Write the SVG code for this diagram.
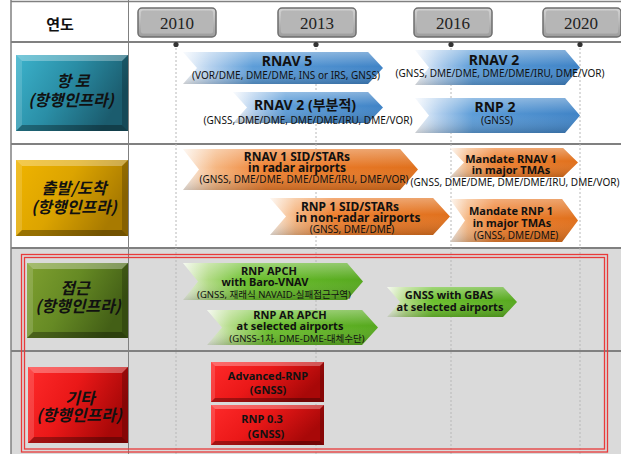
<svg xmlns="http://www.w3.org/2000/svg" width="621" height="454" viewBox="0 0 621 454">
<defs>
<linearGradient id="gBlue" x1="0" y1="0" x2="1" y2="0">
<stop offset="0" stop-color="#f6f9fd"/><stop offset="0.14" stop-color="#b3d0ee"/><stop offset="0.35" stop-color="#5d9dd8"/><stop offset="1" stop-color="#3f83c6"/>
</linearGradient>
<linearGradient id="gOrange" x1="0" y1="0" x2="1" y2="0">
<stop offset="0" stop-color="#fdf3ea"/><stop offset="0.14" stop-color="#f5b681"/><stop offset="0.35" stop-color="#ee8030"/><stop offset="1" stop-color="#e0701c"/>
</linearGradient>
<linearGradient id="gGreen" x1="0" y1="0" x2="1" y2="0">
<stop offset="0" stop-color="#f0f6e8"/><stop offset="0.14" stop-color="#b2db85"/><stop offset="0.35" stop-color="#6cc02e"/><stop offset="1" stop-color="#56a81e"/>
</linearGradient>
<linearGradient id="gShade" x1="0" y1="0" x2="0" y2="1">
<stop offset="0" stop-color="#ffffff" stop-opacity="0.35"/><stop offset="0.45" stop-color="#ffffff" stop-opacity="0"/><stop offset="1" stop-color="#000000" stop-opacity="0.18"/>
</linearGradient>
<linearGradient id="gTeal" x1="0" y1="0" x2="1" y2="0.4">
<stop offset="0" stop-color="#3cb3cc"/><stop offset="0.5" stop-color="#2a8ea6"/><stop offset="1" stop-color="#1b5c6e"/>
</linearGradient>
<linearGradient id="gGold" x1="0" y1="0" x2="1" y2="0.4">
<stop offset="0" stop-color="#f0b400"/><stop offset="0.5" stop-color="#dca400"/><stop offset="1" stop-color="#a87a00"/>
</linearGradient>
<linearGradient id="gOlive" x1="0" y1="0" x2="1" y2="0.4">
<stop offset="0" stop-color="#7fa030"/><stop offset="0.5" stop-color="#668a24"/><stop offset="1" stop-color="#435f16"/>
</linearGradient>
<linearGradient id="gRed" x1="0" y1="0" x2="1" y2="0.4">
<stop offset="0" stop-color="#ff2a2a"/><stop offset="0.5" stop-color="#ea1818"/><stop offset="1" stop-color="#a80808"/>
</linearGradient>
<linearGradient id="gGray" x1="0" y1="0" x2="0" y2="1">
<stop offset="0" stop-color="#d4d4d4"/><stop offset="1" stop-color="#9c9c9c"/>
</linearGradient>
<style>
.grid{stroke:#808080;fill:none}
.tl{stroke:#b8b8b8;stroke-width:1;stroke-dasharray:2 2;fill:none}
.dot{fill:#333}
.shade{fill:url(#gShade)}
.hl{fill:#ffffff;fill-opacity:0.3}
.hl2{fill:#ffffff;fill-opacity:0.15}
.dk{fill:#000000;fill-opacity:0.32}
.dk2{fill:#000000;fill-opacity:0.2}
.cat{font-family:"Noto Sans CJK KR","Noto Sans",sans-serif;font-weight:bold;font-size:16px;fill:#111;text-anchor:middle}
.yr{font-family:"Liberation Serif",serif;font-size:17px;fill:#222;text-anchor:middle}
.t{font-family:"Noto Sans","Noto Sans CJK KR",sans-serif;fill:#111;text-anchor:middle}
.b14{font-size:14px;font-weight:bold}
.b12{font-size:12px;font-weight:bold}
.b11{font-size:11px;font-weight:bold}
.s10{font-size:10px}
.s9{font-size:9.5px}
.frame{fill:none;stroke:#e83a3a;stroke-width:1.3}
</style>
</defs>

<g id="background">
<rect x="0" y="0" width="621" height="454" fill="#ffffff"/>
<rect x="11" y="248" width="610" height="206" fill="#dadada"/>
</g>

<g id="grid">
<line class="grid" x1="11" y1="1.5" x2="621" y2="1.5" stroke-width="1.5"/>
<line class="grid" x1="11" y1="42" x2="621" y2="42" stroke-width="2"/>
<line class="grid" x1="11" y1="144" x2="621" y2="144" stroke-width="2"/>
<line class="grid" x1="11" y1="248" x2="621" y2="248" stroke-width="2"/>
<line class="grid" x1="11" y1="351" x2="621" y2="351" stroke-width="2"/>
<line class="grid" x1="11" y1="0" x2="11" y2="454" stroke-width="1.5"/>
<line class="grid" x1="128.5" y1="0" x2="128.5" y2="454" stroke-width="1" stroke="#9a9a9a"/>
</g>

<g id="connectors">
<line class="tl" x1="176" y1="44" x2="176" y2="454"/>
<line class="tl" x1="316" y1="44" x2="316" y2="454"/>
<line class="tl" x1="451" y1="44" x2="451" y2="454"/>
<line class="tl" x1="580" y1="44" x2="580" y2="454"/>
<circle class="dot" cx="176" cy="44.5" r="2.6"/>
<circle class="dot" cx="316" cy="44.5" r="2.6"/>
<circle class="dot" cx="451" cy="44.5" r="2.6"/>
<circle class="dot" cx="580" cy="44.5" r="2.6"/>
</g>

<g id="frame">
<rect class="frame" x="21.5" y="254.5" width="586" height="197.5"/>
<rect class="frame" x="24.5" y="257.5" width="580" height="191.5"/>
</g>

<g id="header">
<text x="60" y="30" font-family="Noto Sans CJK KR, sans-serif" font-weight="bold" font-size="15" text-anchor="middle" fill="#111">연도</text>
</g>

<g id="year-2010">
<rect x="138" y="8" width="78" height="29" rx="4" fill="url(#gGray)" stroke="#6e6e6e" stroke-width="1.5"/>
<rect x="141" y="10.5" width="72" height="23" rx="2" fill="#b6b6b6"/>
<text class="yr" x="177" y="29">2010</text>
</g>
<g id="year-2013">
<rect x="278" y="8" width="78" height="29" rx="4" fill="url(#gGray)" stroke="#6e6e6e" stroke-width="1.5"/>
<rect x="281" y="10.5" width="72" height="23" rx="2" fill="#b6b6b6"/>
<text class="yr" x="317" y="29">2013</text>
</g>
<g id="year-2016">
<rect x="414" y="8" width="78" height="29" rx="4" fill="url(#gGray)" stroke="#6e6e6e" stroke-width="1.5"/>
<rect x="417" y="10.5" width="72" height="23" rx="2" fill="#b6b6b6"/>
<text class="yr" x="453" y="29">2016</text>
</g>
<g id="year-2020">
<rect x="543" y="8" width="78" height="29" rx="4" fill="url(#gGray)" stroke="#6e6e6e" stroke-width="1.5"/>
<rect x="546" y="10.5" width="72" height="23" rx="2" fill="#b6b6b6"/>
<text class="yr" x="581" y="29">2020</text>
</g>

<g id="cat-enroute">
<rect x="16" y="55" width="112" height="76" fill="url(#gTeal)"/>
<polygon class="hl" points="16,55 128,55 122,61 22,61"/>
<polygon class="hl2" points="16,55 22,61 22,125 16,131"/>
<polygon class="dk" points="16,131 22,125 122,125 128,131"/>
<polygon class="dk2" points="128,55 128,131 122,125 122,61"/>
<text class="cat" transform="translate(73,87) skewX(-14)">항 로</text>
<text class="cat" transform="translate(71,106) skewX(-14)">(항행인프라)</text>
</g>

<g id="cat-departure">
<rect x="16" y="160" width="112" height="76" fill="url(#gGold)"/>
<polygon class="hl" points="16,160 128,160 122,166 22,166"/>
<polygon class="hl2" points="16,160 22,166 22,230 16,236"/>
<polygon class="dk" points="16,236 22,230 122,230 128,236"/>
<polygon class="dk2" points="128,160 128,236 122,230 122,166"/>
<text class="cat" transform="translate(74,194) skewX(-14)">출발/도착</text>
<text class="cat" transform="translate(74,213) skewX(-14)">(항행인프라)</text>
</g>

<g id="cat-approach">
<rect x="27" y="263" width="101" height="75" fill="url(#gOlive)"/>
<polygon class="hl" points="27,263 128,263 122,269 33,269"/>
<polygon class="hl2" points="27,263 33,269 33,332 27,338"/>
<polygon class="dk" points="27,338 33,332 122,332 128,338"/>
<polygon class="dk2" points="128,263 128,338 122,332 122,269"/>
<text class="cat" transform="translate(75,294) skewX(-14)">접근</text>
<text class="cat" transform="translate(78,312) skewX(-14)">(항행인프라)</text>
</g>

<g id="cat-other">
<rect x="28" y="367" width="100" height="76" fill="url(#gRed)"/>
<polygon class="hl" points="28,367 128,367 122,373 34,373"/>
<polygon class="hl2" points="28,367 34,373 34,437 28,443"/>
<polygon class="dk" points="28,443 34,437 122,437 128,443"/>
<polygon class="dk2" points="128,367 128,443 122,437 122,373"/>
<text class="cat" transform="translate(80,404) skewX(-14)">기타</text>
<text class="cat" transform="translate(79,421) skewX(-14)">(항행인프라)</text>
</g>

<g id="rnav5">
<polygon points="183,52 368,52 383,68 368,84 183,84 197,68" fill="url(#gBlue)"/>
<polygon class="shade" points="183,52 368,52 383,68 368,84 183,84 197,68"/>
<text class="t b14" x="287" y="66">RNAV 5</text>
<text class="t s10" x="286" y="79">(VOR/DME,  DME/DME,  INS or IRS, GNSS)</text>
</g>

<g id="rnav2-partial">
<polygon points="233,92 368,92 383,107.5 368,123 233,123 247,107.5" fill="url(#gBlue)"/>
<polygon class="shade" points="233,92 368,92 383,107.5 368,123 233,123 247,107.5"/>
<text class="t b14" x="305" y="110">RNAV 2 (부분적)</text>
<text class="t s10" x="308" y="124">(GNSS, DME/DME, DME/DME/IRU, DME/VOR)</text>
</g>

<g id="rnav2">
<polygon points="415,50 565,50 580,67.5 565,85 415,85 429,67.5" fill="url(#gBlue)"/>
<polygon class="shade" points="415,50 565,50 580,67.5 565,85 415,85 429,67.5"/>
<text class="t b14" x="494" y="65">RNAV 2</text>
<text class="t s10" x="500" y="77">(GNSS, DME/DME, DME/DME/IRU, DME/VOR)</text>
</g>

<g id="rnp2">
<polygon points="415,98 565,98 580,115.5 565,133 415,133 429,115.5" fill="url(#gBlue)"/>
<polygon class="shade" points="415,98 565,98 580,115.5 565,133 415,133 429,115.5"/>
<text class="t b14" x="495" y="112">RNP 2</text>
<text class="t s10" x="497" y="124">(GNSS)</text>
</g>

<g id="rnav1-sid">
<polygon points="183,149 400,149 418,169.5 400,190 183,190 199,169.5" fill="url(#gOrange)"/>
<polygon class="shade" points="183,149 400,149 418,169.5 400,190 183,190 199,169.5"/>
<text class="t b12" x="297" y="161">RNAV 1 SID/STARs</text>
<text class="t b12" x="297" y="172">in radar airports</text>
<text class="t s10" x="304" y="183">(GNSS, DME/DME, DME/DME/IRU, DME/VOR)</text>
</g>

<g id="rnp1-sid">
<polygon points="270,198 433,198 450,216.5 433,235 270,235 286,216.5" fill="url(#gOrange)"/>
<polygon class="shade" points="270,198 433,198 450,216.5 433,235 270,235 286,216.5"/>
<text class="t b12" x="350" y="211">RNP 1 SID/STARs</text>
<text class="t b12" x="358" y="222">in non-radar  airports</text>
<text class="t s10" x="352" y="233">(GNSS, DME/DME)</text>
</g>

<g id="mandate-rnav1">
<polygon points="450,148 563,148 578,162.5 563,177 450,177 464,162.5" fill="url(#gOrange)"/>
<polygon class="shade" points="450,148 563,148 578,162.5 563,177 450,177 464,162.5"/>
<text class="t b11" x="511" y="163">Mandate  RNAV 1</text>
<text class="t b11" x="511" y="174">in major TMAs</text>
<text class="t s10" x="515" y="186">(GNSS, DME/DME, DME/DME/IRU, DME/VOR)</text>
</g>

<g id="mandate-rnp1">
<polygon points="450,199 562,199 578,220.5 562,242 450,242 465,220.5" fill="url(#gOrange)"/>
<polygon class="shade" points="450,199 562,199 578,220.5 562,242 450,242 465,220.5"/>
<text class="t b11" x="511" y="215">Mandate RNP 1</text>
<text class="t b11" x="512" y="227">in major TMAs</text>
<text class="t s10" x="516" y="239">(GNSS, DME/DME)</text>
</g>

<g id="rnp-apch">
<polygon points="183,263 347,263 363,281.5 347,300 183,300 198,281.5" fill="url(#gGreen)"/>
<polygon class="shade" points="183,263 347,263 363,281.5 347,300 183,300 198,281.5"/>
<text class="t b11" x="269" y="275">RNP APCH</text>
<text class="t b11" x="265" y="286">with Baro-VNAV</text>
<text class="t s9" x="274" y="298">(GNSS, 재래식 NAVAID-실패접근구역)</text>
</g>

<g id="rnp-ar-apch">
<polygon points="207,310 362,310 378,327.5 362,345 207,345 222,327.5" fill="url(#gGreen)"/>
<polygon class="shade" points="207,310 362,310 378,327.5 362,345 207,345 222,327.5"/>
<text class="t b11" x="290" y="319">RNP AR APCH</text>
<text class="t b11" x="290" y="330">at selected  airports</text>
<text class="t s9" x="297" y="342">(GNSS-1차, DME-DME-대체수단)</text>
</g>

<g id="gbas">
<polygon points="387,287 503,287 517,302 503,317 387,317 400,302" fill="url(#gGreen)"/>
<polygon class="shade" points="387,287 503,287 517,302 503,317 387,317 400,302"/>
<text class="t b11" x="449" y="299">GNSS  with  GBAS</text>
<text class="t b11" x="450" y="311">at selected  airports</text>
</g>

<g id="advanced-rnp">
<rect x="211" y="362" width="113" height="40" fill="url(#gRed)"/>
<polygon class="hl" points="211,362 324,362 320,366 215,366"/>
<polygon class="hl2" points="211,362 215,366 215,398 211,402"/>
<polygon class="dk" points="211,402 215,398 320,398 324,402"/>
<polygon class="dk2" points="324,362 324,402 320,398 320,366"/>
<text class="t b11" x="268" y="380">Advanced-RNP</text>
<text class="t b11" x="268" y="394">(GNSS)</text>
</g>

<g id="rnp03">
<rect x="211" y="405" width="113" height="40" fill="url(#gRed)"/>
<polygon class="hl" points="211,405 324,405 320,409 215,409"/>
<polygon class="hl2" points="211,405 215,409 215,441 211,445"/>
<polygon class="dk" points="211,445 215,441 320,441 324,445"/>
<polygon class="dk2" points="324,405 324,445 320,441 320,409"/>
<text class="t b11" x="262" y="423">RNP  0.3</text>
<text class="t b11" x="266" y="438">(GNSS)</text>
</g>
</svg>
